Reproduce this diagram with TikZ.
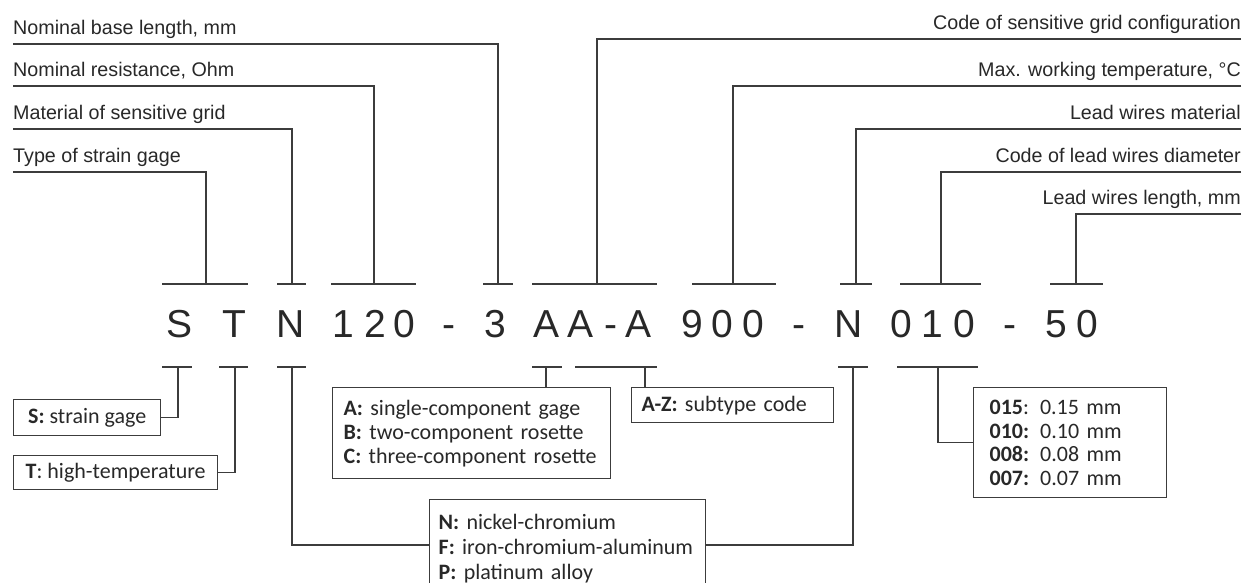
\documentclass[tikz,border=0pt]{standalone}
\usepackage{fontspec}
\setmainfont{Liberation Sans}
\newfontfamily\boxfont{Carlito}
\usetikzlibrary{calc}
\definecolor{inkgray}{RGB}{60,60,60}
\definecolor{txtgray}{RGB}{40,40,40}

\tikzset{
  ln/.style={line width=1.5pt, draw=inkgray},
  lbl/.style={font=\fontsize{19.7}{21}\selectfont, text=txtgray, inner xsep=0pt, inner ysep=4pt, text depth=5pt},
  codechar/.style={font=\fontsize{39}{40}\selectfont, text=txtgray, anchor=base, inner sep=0pt},
  box/.style={draw=inkgray, line width=1.3pt, font=\boxfont\fontsize{22}{24}\selectfont, text=txtgray, align=left, anchor=north west},
}

\begin{document}
\begin{tikzpicture}[x=1pt, y=-1pt]
  \clip (0,0) rectangle (1251,583);
  % Code string
  \foreach \x/\c [count=\i] in {180/S, 234/T, 291/N, 343/1, 375/2, 404/0, 449/-, 495/3, 547/A, 581/A, 611/-, 639/A, 692/9, 722/0, 753/0, 799/-, 849/N, 901/0, 932/1, 964/0, 1010/-, 1056/5, 1087/0}
    \node[codechar] (c\i) at (\x,337) {\c};
  % Upper ticks
  \foreach \n/\x/\a/\b in {Type/206/162/248, Mat/292/277/306, Res/374/331/416, Base/498/483/513, Conf/597/532/657, Temp/733/692/776, LMat/856/840/872, Diam/941/900/981, Len/1076/1050/1103}
  {
    \coordinate (u\n) at (\x,284);
    \draw[ln] (\a,284) -- (\b,284);
  }
  % Lower ticks
  \foreach \n/\x/\a/\b in {S/178/162/192, T/235/219/248, N/292/277/306, A/546/532/562, AZ/645/575/657, NL/853/838/868, Diam/938/897/978}
  {
    \coordinate (d\n) at (\x,367);
    \draw[ln] (\a,367) -- (\b,367);
  }
  % Labels above
  \node[lbl, anchor=south west] (lBase) at (13,44) {Nominal base length, mm};
  \node[lbl, anchor=south west] (lRes) at (13,86) {Nominal resistance, Ohm};
  \node[lbl, anchor=south west] (lMat) at (13,129) {Material of sensitive grid};
  \node[lbl, anchor=south west] (lType) at (13,172) {Type of strain gage};
  \node[lbl, anchor=south east] (lConf) at (1241,39) {Code of sensitive grid configuration};
  \node[lbl, anchor=south east] (lTemp) at (1241,86) {Max. working temperature, °C};
  \node[lbl, anchor=south east] (lLMat) at (1241,129) {Lead wires material};
  \node[lbl, anchor=south east] (lDiam) at (1241,172) {Code of lead wires diameter};
  \node[lbl, anchor=south east] (lLen) at (1241,214) {Lead wires length, mm};
  \draw[ln] (lBase.south west) -| (uBase);
  \draw[ln] (lRes.south west) -| (uRes);
  \draw[ln] (lMat.south west) -| (uMat);
  \draw[ln] (lType.south west) -| (uType);
  \draw[ln] (lConf.south east) -| (uConf);
  \draw[ln] (lTemp.south east) -| (uTemp);
  \draw[ln] (lLMat.south east) -| (uLMat);
  \draw[ln] (lDiam.south east) -| (uDiam);
  \draw[ln] (lLen.south east) -| (uLen);
  % Boxes below
  \node[box, minimum width=147pt, minimum height=36pt] (bS) at (13,399) {\textbf{S:} strain gage};
  \node[box, minimum width=204pt, minimum height=34pt] (bT) at (13,455) {\textbf{T}: high-temperature};
  \node[box, text width=256pt, inner xsep=11pt, minimum height=91pt] (bA) at (332,387)
    {\textbf{A:} single-component gage\\ \textbf{B:} two-component rosette\\ \textbf{C:} three-component rosette};
  \node[box, text width=182pt, inner xsep=10pt, minimum height=35pt] (bAZ) at (631,387) {\textbf{A-Z:} subtype code};
  \node[box, text width=258pt, inner xsep=9pt, inner ysep=15pt, font=\boxfont\fontsize{22}{25}\selectfont] (bN) at (429,499)
    {\textbf{N:} nickel-chromium\\ \textbf{F:} iron-chromium-aluminum\\ \textbf{P:} platinum alloy};
  \node[box, text width=161pt, inner xsep=16pt, minimum height=110pt, font=\boxfont\fontsize{22}{23.5}\selectfont] (bD) at (973,387)
    {\textbf{015}: 0.15 mm\\ \textbf{010:} 0.10 mm\\ \textbf{008:} 0.08 mm\\ \textbf{007:} 0.07 mm};
  \draw[ln] (bS.east) -| (dS);
  \draw[ln] (bT.east) -| (dT);
  \draw[ln] (dN) |- ([yshift=-46pt]bN.north west);
  \draw[ln] (dNL) |- ([yshift=-46pt]bN.north east);
  \draw[ln] (dA) -- (dA |- bA.north);
  \draw[ln] (dAZ) -- (dAZ |- bAZ.north);
  \draw[ln] (dDiam) |- (bD.west);
\end{tikzpicture}
\end{document}
